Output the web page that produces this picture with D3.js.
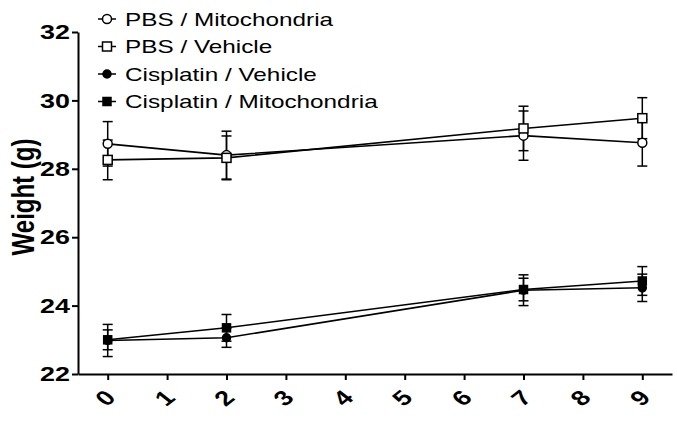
<!DOCTYPE html>
<html>
<script src='https://d3js.org/d3.v7.min.js'></script>
<style>
body { margin: 0; background: white; }
text { font-family: 'Liberation Sans', Arial, sans-serif; }
</style>
<body>
<svg width=677 height=424></svg>
<script>
// days on the x axis
const days = [0, 2, 7, 9];
const xTicks = [0, 1, 2, 3, 4, 5, 6, 7, 8, 9];
const yTicks = [22, 24, 26, 28, 30, 32];

const pbsMito = [28.73, 28.40, 28.97, 28.76];
const pbsMitoErr = [0.65, 0.70, 0.72, 0.68];
const pbsVeh = [28.26, 28.32, 29.18, 29.48];
const pbsVehErr = [0.58, 0.64, 0.65, 0.60];
const cisVeh = [22.98, 23.06, 24.45, 24.52];
const cisVehErr = [0.47, 0.28, 0.45, 0.40];
const cisMito = [23.00, 23.35, 24.47, 24.72];
const cisMitoErr = [0.29, 0.39, 0.33, 0.42];

const series = [
    {name: "PBS / Mitochondria", vals: pbsMito, err: pbsMitoErr, shape: "circle", fill: "white"},
    {name: "PBS / Vehicle", vals: pbsVeh, err: pbsVehErr, shape: "square", fill: "white"},
    {name: "Cisplatin / Vehicle", vals: cisVeh, err: cisVehErr, shape: "circle", fill: "black"},
    {name: "Cisplatin / Mitochondria", vals: cisMito, err: cisMitoErr, shape: "square", fill: "black"}
];

// the original figure is stretched sideways, text too
const stretch = 1.28;

const svg = d3.select("svg");

const x = d3.scaleLinear().domain([-0.5, 9.5]).range([78, 672]);
const y = d3.scaleLinear().domain([22, 32]).range([374, 32]);

function marker(g, s, cx, cy) {
    if (s.shape == "circle") {
        g.append("circle").attr("cx", cx).attr("cy", cy)
         .attr("r", s.fill == "white" ? 4.5 : 4)
         .attr("fill", s.fill).attr("stroke", "black").attr("stroke-width", 1.5);
    } else {
        const h = s.fill == "white" ? 4.5 : 4;
        g.append("rect").attr("x", cx - h).attr("y", cy - h)
         .attr("width", 2 * h).attr("height", 2 * h)
         .attr("fill", s.fill).attr("stroke", "black").attr("stroke-width", 1.5);
    }
}

// error bars
series.forEach(s => {
    const g = svg.append("g");
    days.forEach((d, i) => {
        const cx = x(d);
        const top = y(s.vals[i] + s.err[i]), bot = y(s.vals[i] - s.err[i]);
        g.append("line").attr("x1", cx).attr("x2", cx).attr("y1", top).attr("y2", bot)
         .attr("stroke", "black").attr("stroke-width", 1.5);
        [top, bot].forEach(yy => g.append("line").attr("x1", cx - 5).attr("x2", cx + 5)
            .attr("y1", yy).attr("y2", yy).attr("stroke", "black").attr("stroke-width", 1.5));
    });
});

// lines
series.forEach(s => {
    svg.append("path")
       .datum(days.map((d, i) => [d, s.vals[i]]))
       .attr("fill", "none").attr("stroke", "black").attr("stroke-width", 1.6)
       .attr("d", d3.line().x(d => x(d[0])).y(d => y(d[1])));
});

// markers
series.forEach(s => {
    const g = svg.append("g");
    days.forEach((d, i) => marker(g, s, x(d), y(s.vals[i])));
});

// axes
const yAxis = svg.append("g").attr("transform", "translate(78,0)")
    .call(d3.axisLeft(y).tickValues(yTicks).tickSize(6).tickSizeOuter(0));
yAxis.selectAll("text")
    .attr("x", 0)
    .attr("transform", `translate(-8,0) scale(${stretch},1)`)
    .style("font-size", "21px").style("font-weight", "bold")
    .style("font-family", "'Liberation Sans', Arial, sans-serif").attr("fill", "black");

const xAxis = svg.append("g").attr("transform", "translate(0,374)")
    .call(d3.axisBottom(x).tickValues(xTicks).tickSize(6).tickSizeOuter(0));
xAxis.selectAll("text").remove();
[yAxis, xAxis].forEach(a => {
    a.select(".domain").attr("stroke", "black").attr("stroke-width", 2);
    a.selectAll(".tick line").attr("stroke", "black").attr("stroke-width", 2);
});

xAxis.selectAll(".tick").append("text")
    .attr("transform", `translate(-3,24) scale(${stretch},1) rotate(-45)`)
    .attr("text-anchor", "middle").attr("dy", "0.35em")
    .style("font-size", "21px").style("font-weight", "bold")
    .style("font-family", "'Liberation Sans', Arial, sans-serif")
    .attr("fill", "black")
    .text(d => d);

svg.append("text")
    .attr("transform", `translate(34,197) scale(${stretch},1) rotate(-90)`)
    .attr("text-anchor", "middle")
    .style("font-size", "24px").style("font-weight", "bold")
    .text("Weight (g)");

// legend
const leg = svg.append("g");
series.forEach((s, i) => {
    const ly = 19 + i * 27.5;
    leg.append("line").attr("x1", 98).attr("x2", 116).attr("y1", ly).attr("y2", ly)
       .attr("stroke", "black").attr("stroke-width", 1.5);
    marker(leg, s, 107, ly);
    leg.append("text").attr("transform", `translate(125,${ly}) scale(${stretch},1)`)
       .attr("dy", "0.35em")
       .style("font-size", "19px").text(s.name);
});
</script>
</body>
</html>
